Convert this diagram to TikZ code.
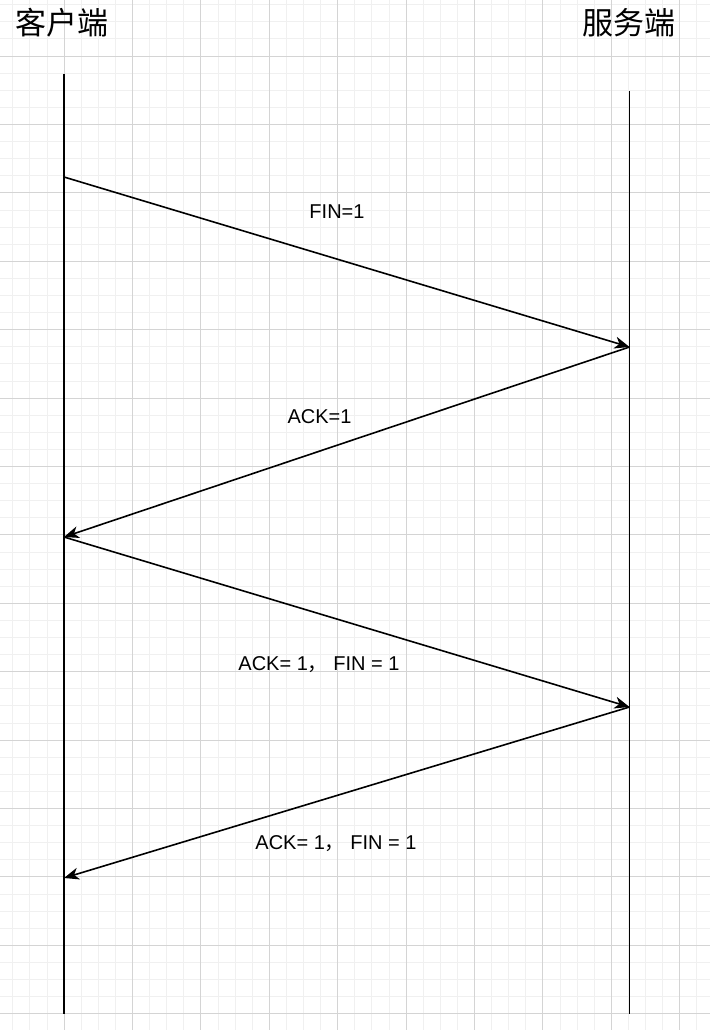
\documentclass[tikz,border=0pt]{standalone}
\usepackage{fontspec}
\setmainfont{Liberation Sans}
\newfontfamily\cjk{Noto Sans CJK SC}
\usetikzlibrary{arrows.meta}

\begin{document}
\begin{tikzpicture}[x=1pt,y=-1pt,
      minorline/.style={line width=0.8pt, black!6},
      majorline/.style={line width=0.8pt, black!17},
      lifeline/.style={line width=1.7pt, black},
      msg/.style={line width=1.6pt, black, -{Stealth[length=15pt,width=12pt,inset=4.5pt]}},
      endname/.style={font={\fontsize{31}{31}\selectfont\cjk}},
      msglabel/.style={font={\fontsize{20}{20}\selectfont}}]

    \useasboundingbox[fill=white] (0,0) rectangle (710,1030);

    %draw grid
    \foreach \i in {0,...,42}{
      \draw[minorline] (-4.4+17.1*\i, 0) -- (-4.4+17.1*\i, 1030);
    }
    \foreach \j in {0,...,61}{
      \draw[minorline] (0, -12.4+17.1*\j) -- (710, -12.4+17.1*\j);
    }
    \foreach \i in {0,4,...,40}{
      \draw[majorline] (-4.4+17.1*\i, 0) -- (-4.4+17.1*\i, 1030);
    }
    \foreach \j in {0,4,...,60}{
      \draw[majorline] (0, -12.4+17.1*\j) -- (710, -12.4+17.1*\j);
    }

    %draw client and server names
    \node[endname] (client) at (62, 23) {客户端};
    \node[endname] (server) at (628.5, 23) {服务端};

    %draw lifelines
    \coordinate (clienttop) at (64, 74);
    \coordinate (clientbot) at (64, 1014);
    \coordinate (servertop) at (629.5, 91);
    \coordinate (serverbot) at (629.5, 1014);
    \draw[lifeline] (clienttop) -- (clientbot);
    \draw[lifeline] (servertop) -- (serverbot);

    %message points
    \coordinate (c1) at (64, 177);
    \coordinate (s1) at (629.5, 347);
    \coordinate (c2) at (64, 537);
    \coordinate (s2) at (629.5, 707);
    \coordinate (c3) at (64, 878);

    %draw messages
    \draw[msg] (c1) -- (s1);
    \draw[msg] (s1) -- (c2);
    \draw[msg] (c2) -- (s2);
    \draw[msg] (s2) -- (c3);

    %draw message labels
    \node[msglabel] (fin) at (337, 212) {FIN=1};
    \node[msglabel] (ack) at (319.5, 417) {ACK=1};
    \node[msglabel] (ackfin) at (319, 665) {ACK= 1{\cjk ，} FIN = 1};
    \node[msglabel] (ackfinb) at (336, 844) {ACK= 1{\cjk ，} FIN = 1};

  \end{tikzpicture}
\end{document}
